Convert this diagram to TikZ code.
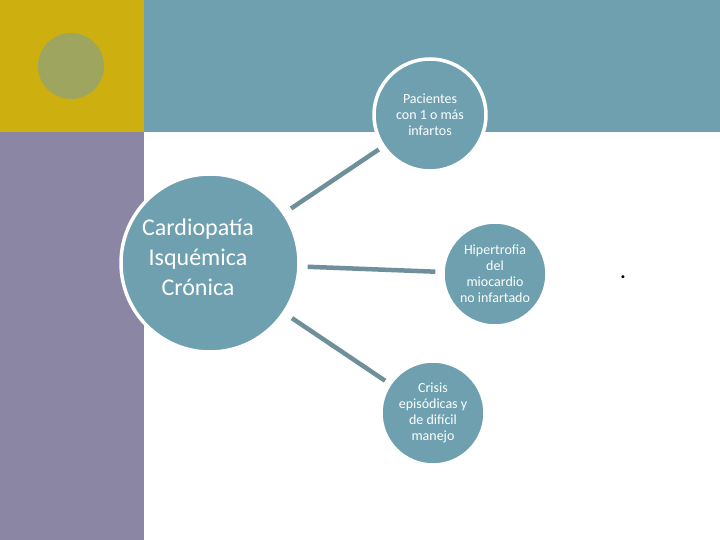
\documentclass[tikz,border=0pt]{standalone}
\usepackage{fontspec}
\setmainfont{Carlito}
\definecolor{tealc}{RGB}{110,160,176}
\definecolor{yellowc}{RGB}{205,176,16}
\definecolor{purplec}{RGB}{138,134,163}
\definecolor{olivec}{RGB}{157,165,94}
\definecolor{linkc}{RGB}{111,143,155}
\begin{document}
\begin{tikzpicture}[x=1pt,y=-1pt,
  bubble/.style={circle, fill=tealc, draw=white, line width=3.5pt, text=white, align=center, inner sep=0pt, font=\fontsize{14}{16}\selectfont},
  link/.style={draw=linkc, line width=4.5pt}]
\useasboundingbox (0,0) rectangle (720,540);
\fill[white] (0,0) rectangle (720,540);
\fill[yellowc] (0,0) rectangle (144,132);
\fill[tealc] (144,0) rectangle (720,132);
\fill[purplec] (0,132) rectangle (144,540);
\fill[olivec] (71,66) circle (33);
\node[bubble, minimum size=178] (main) at (210,263) {};
\node[text=white, align=center, font=\fontsize{24}{30}\selectfont] (maintext) at (198,257) {Cardiopatía\\Isquémica\\Crónica};
\node[bubble, minimum size=112] (pac) at (430,115) {Pacientes\\con 1 o más\\infartos};
\node[bubble, minimum size=104] (hip) at (495,274) {Hipertrofia\\del\\miocardio\\no infartado};
\node[bubble, minimum size=104] (cri) at (433,413) {Crisis\\episódicas y\\de difícil\\manejo};
\draw[link, shorten <=7pt, shorten >=4pt] (main) -- (pac);
\draw[link, shorten <=7pt, shorten >=6pt] (main) -- (hip);
\draw[link, shorten <=8pt, shorten >=4pt] (main) -- (cri);
\node[font=\fontsize{20}{20}\selectfont\bfseries, inner sep=0pt] (dot) at (623,277) {.};
\end{tikzpicture}
\end{document}
